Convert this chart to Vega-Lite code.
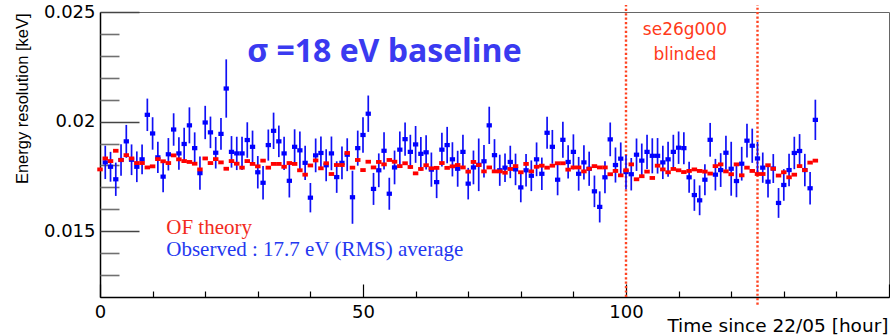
{
  "$schema": "https://vega.github.io/schema/vega-lite/v6.json",
  "width": 789,
  "height": 285,
  "autosize": {"type": "none"},
  "padding": {"left": 100, "top": 12, "right": 1, "bottom": 38},
  "background": "white",
  "config": {
    "view": {"stroke": "#666666", "strokeWidth": 1},
    "axis": {"grid": false, "labelFont": "DejaVu Sans", "labelColor": "black", "titleColor": "black", "labelFlush": false, "labelOverlap": false}
  },
  "datasets": {
    "blind": [
      {"h": 100, "y1": 0.0120, "y2": 0.02532},
      {"h": 125, "y1": 0.01165, "y2": 0.02532}
    ],
    "red": [
      {"h":0,"v":0.01782},{"h":1,"v":0.01832},{"h":2,"v":0.0182},{"h":3,"v":0.01867},{"h":4,"v":0.01825},
      {"h":5,"v":0.01847},{"h":6,"v":0.01832},{"h":7,"v":0.01811},{"h":8,"v":0.01811},{"h":9,"v":0.01791},
      {"h":10,"v":0.01796},{"h":11,"v":0.01829},{"h":12,"v":0.01819},{"h":13,"v":0.01811},{"h":14,"v":0.01846},
      {"h":15,"v":0.01828},{"h":16,"v":0.0182},{"h":17,"v":0.01816},{"h":18,"v":0.01808},{"h":19,"v":0.01782},
      {"h":20,"v":0.01832},{"h":21,"v":0.01811},{"h":22,"v":0.01829},{"h":23,"v":0.01814},{"h":24,"v":0.01785},
      {"h":25,"v":0.0182},{"h":26,"v":0.01808},{"h":27,"v":0.0179},{"h":28,"v":0.0182},{"h":29,"v":0.01807},
      {"h":30,"v":0.01796},{"h":31,"v":0.01822},{"h":32,"v":0.0179},{"h":33,"v":0.01807},{"h":34,"v":0.01807},
      {"h":35,"v":0.01794},{"h":36,"v":0.01811},{"h":37,"v":0.01807},{"h":38,"v":0.01778},{"h":39,"v":0.01758},
      {"h":40,"v":0.018},{"h":41,"v":0.01823},{"h":42,"v":0.01787},{"h":43,"v":0.0181},{"h":44,"v":0.01761},
      {"h":45,"v":0.01802},{"h":46,"v":0.01802},{"h":47,"v":0.01857},{"h":48,"v":0.0179},{"h":49,"v":0.01825},
      {"h":50,"v":0.01779},{"h":51,"v":0.01817},{"h":52,"v":0.01791},{"h":53,"v":0.01816},{"h":54,"v":0.01805},
      {"h":55,"v":0.01825},{"h":56,"v":0.01817},{"h":57,"v":0.01797},{"h":58,"v":0.0181},{"h":59,"v":0.01793},
      {"h":60,"v":0.01764},{"h":61,"v":0.01784},{"h":62,"v":0.01801},{"h":63,"v":0.01787},{"h":64,"v":0.01789},
      {"h":65,"v":0.01811},{"h":66,"v":0.01789},{"h":67,"v":0.01796},{"h":68,"v":0.01802},{"h":69,"v":0.01791},
      {"h":70,"v":0.01772},{"h":71,"v":0.01816},{"h":72,"v":0.01802},{"h":73,"v":0.01773},{"h":74,"v":0.01791},
      {"h":75,"v":0.01773},{"h":76,"v":0.01773},{"h":77,"v":0.01767},{"h":78,"v":0.01784},{"h":79,"v":0.01797},
      {"h":80,"v":0.01769},{"h":81,"v":0.01807},{"h":82,"v":0.01773},{"h":83,"v":0.01794},{"h":84,"v":0.01799},
      {"h":85,"v":0.0179},{"h":86,"v":0.01799},{"h":87,"v":0.0181},{"h":88,"v":0.0181},{"h":89,"v":0.01781},
      {"h":90,"v":0.01791},{"h":91,"v":0.01791},{"h":92,"v":0.01773},{"h":93,"v":0.01785},{"h":94,"v":0.01797},
      {"h":95,"v":0.01791},{"h":96,"v":0.01791},{"h":97,"v":0.0176},{"h":98,"v":0.01775},{"h":99,"v":0.01755},
      {"h":100,"v":0.01778},{"h":101,"v":0.01805},{"h":102,"v":0.01737},{"h":103,"v":0.01751},{"h":104,"v":0.01772},
      {"h":105,"v":0.01743},{"h":106,"v":0.01799},{"h":107,"v":0.01782},{"h":108,"v":0.01769},{"h":109,"v":0.01784},
      {"h":110,"v":0.01778},{"h":111,"v":0.0177},{"h":112,"v":0.01775},{"h":113,"v":0.01782},{"h":114,"v":0.01775},
      {"h":115,"v":0.01772},{"h":116,"v":0.01763},{"h":117,"v":0.01797},{"h":118,"v":0.01805},{"h":119,"v":0.01773},
      {"h":120,"v":0.0176},{"h":121,"v":0.01805},{"h":122,"v":0.01755},{"h":123,"v":0.0179},{"h":124,"v":0.01775},
      {"h":125,"v":0.01761},{"h":126,"v":0.01761},{"h":127,"v":0.01801},{"h":128,"v":0.01785},{"h":129,"v":0.01754},
      {"h":130,"v":0.01769},{"h":131,"v":0.01746},{"h":132,"v":0.01758},{"h":133,"v":0.01797},{"h":134,"v":0.01779},
      {"h":135,"v":0.01813},{"h":136,"v":0.01822}
    ],
    "blue": [
      {"h":1,"v":0.01814,"lo":0.01738,"hi":0.0189},{"h":2,"v":0.01794,"lo":0.01726,"hi":0.01862},
      {"h":3,"v":0.01737,"lo":0.01661,"hi":0.01813},{"h":4,"v":0.01825,"lo":0.01753,"hi":0.01897},
      {"h":5,"v":0.0191,"lo":0.01835,"hi":0.01985},{"h":6,"v":0.01826,"lo":0.01756,"hi":0.01896},
      {"h":7,"v":0.01794,"lo":0.01724,"hi":0.01864},{"h":8,"v":0.01828,"lo":0.0176,"hi":0.01896},
      {"h":9,"v":0.02031,"lo":0.01957,"hi":0.02105},{"h":10,"v":0.01946,"lo":0.01872,"hi":0.0202},
      {"h":11,"v":0.01837,"lo":0.01766,"hi":0.01908},{"h":12,"v":0.01749,"lo":0.01678,"hi":0.0182},
      {"h":13,"v":0.01851,"lo":0.01777,"hi":0.01925},{"h":14,"v":0.01964,"lo":0.0189,"hi":0.02038},
      {"h":15,"v":0.01855,"lo":0.01781,"hi":0.01929},{"h":16,"v":0.01898,"lo":0.01824,"hi":0.01972},
      {"h":17,"v":0.01983,"lo":0.01901,"hi":0.02065},{"h":18,"v":0.01879,"lo":0.01807,"hi":0.01951},
      {"h":19,"v":0.01765,"lo":0.01689,"hi":0.01841},{"h":20,"v":0.01996,"lo":0.0192,"hi":0.02072},
      {"h":21,"v":0.01951,"lo":0.01879,"hi":0.02023},{"h":22,"v":0.01858,"lo":0.01786,"hi":0.0193},
      {"h":23,"v":0.01944,"lo":0.01872,"hi":0.02016},{"h":24,"v":0.02151,"lo":0.02018,"hi":0.02284},
      {"h":25,"v":0.01862,"lo":0.0179,"hi":0.01934},{"h":26,"v":0.01855,"lo":0.01779,"hi":0.01931},
      {"h":27,"v":0.01855,"lo":0.01779,"hi":0.01931},{"h":28,"v":0.01916,"lo":0.01835,"hi":0.01997},
      {"h":29,"v":0.01885,"lo":0.01811,"hi":0.01959},{"h":30,"v":0.01769,"lo":0.01695,"hi":0.01843},
      {"h":31,"v":0.01721,"lo":0.01645,"hi":0.01797},{"h":32,"v":0.01893,"lo":0.01822,"hi":0.01964},
      {"h":33,"v":0.01958,"lo":0.01875,"hi":0.02041},{"h":34,"v":0.0191,"lo":0.01838,"hi":0.01982},
      {"h":35,"v":0.01855,"lo":0.01779,"hi":0.01931},{"h":36,"v":0.0173,"lo":0.01654,"hi":0.01806},
      {"h":37,"v":0.01885,"lo":0.01805,"hi":0.01965},{"h":38,"v":0.01869,"lo":0.01783,"hi":0.01955},
      {"h":39,"v":0.01812,"lo":0.01734,"hi":0.0189},{"h":40,"v":0.01653,"lo":0.01586,"hi":0.0172},
      {"h":41,"v":0.01846,"lo":0.01769,"hi":0.01923},{"h":42,"v":0.01857,"lo":0.01782,"hi":0.01932},
      {"h":43,"v":0.01801,"lo":0.01728,"hi":0.01874},{"h":44,"v":0.01855,"lo":0.01778,"hi":0.01932},
      {"h":45,"v":0.01747,"lo":0.01675,"hi":0.01819},{"h":46,"v":0.01812,"lo":0.01737,"hi":0.01887},
      {"h":47,"v":0.01849,"lo":0.01774,"hi":0.01924},{"h":48,"v":0.01655,"lo":0.01534,"hi":0.01776},
      {"h":49,"v":0.01879,"lo":0.01799,"hi":0.01959},{"h":50,"v":0.01939,"lo":0.01858,"hi":0.0202},
      {"h":51,"v":0.02036,"lo":0.01953,"hi":0.02119},{"h":52,"v":0.01693,"lo":0.0162,"hi":0.01766},
      {"h":53,"v":0.01778,"lo":0.01701,"hi":0.01855},{"h":54,"v":0.01867,"lo":0.01782,"hi":0.01952},
      {"h":55,"v":0.01671,"lo":0.01598,"hi":0.01744},{"h":56,"v":0.01791,"lo":0.01714,"hi":0.01868},
      {"h":57,"v":0.01872,"lo":0.01789,"hi":0.01955},{"h":58,"v":0.0192,"lo":0.01844,"hi":0.01996},
      {"h":59,"v":0.01862,"lo":0.01784,"hi":0.0194},{"h":60,"v":0.01896,"lo":0.01812,"hi":0.0198},
      {"h":61,"v":0.01853,"lo":0.01776,"hi":0.0193},{"h":62,"v":0.0186,"lo":0.01782,"hi":0.01938},
      {"h":63,"v":0.01781,"lo":0.01703,"hi":0.01859},{"h":64,"v":0.01724,"lo":0.01651,"hi":0.01797},
      {"h":65,"v":0.01872,"lo":0.01795,"hi":0.01949},{"h":66,"v":0.01893,"lo":0.0181,"hi":0.01976},
      {"h":67,"v":0.01828,"lo":0.0175,"hi":0.01906},{"h":68,"v":0.01785,"lo":0.01703,"hi":0.01867},
      {"h":69,"v":0.01862,"lo":0.01784,"hi":0.0194},{"h":70,"v":0.01717,"lo":0.01645,"hi":0.01789},
      {"h":71,"v":0.01791,"lo":0.01714,"hi":0.01868},{"h":72,"v":0.01803,"lo":0.01683,"hi":0.01923},
      {"h":73,"v":0.01819,"lo":0.01745,"hi":0.01893},{"h":74,"v":0.01983,"lo":0.01898,"hi":0.02068},
      {"h":75,"v":0.01847,"lo":0.01774,"hi":0.0192},{"h":76,"v":0.01778,"lo":0.01707,"hi":0.01849},
      {"h":77,"v":0.0179,"lo":0.01725,"hi":0.01855},{"h":78,"v":0.01816,"lo":0.01742,"hi":0.0189},
      {"h":79,"v":0.01782,"lo":0.0171,"hi":0.01854},{"h":80,"v":0.017,"lo":0.01632,"hi":0.01768},
      {"h":81,"v":0.01778,"lo":0.01704,"hi":0.01852},{"h":82,"v":0.01753,"lo":0.01683,"hi":0.01823},
      {"h":83,"v":0.01828,"lo":0.01751,"hi":0.01905},{"h":84,"v":0.01762,"lo":0.01688,"hi":0.01836},
      {"h":85,"v":0.01949,"lo":0.01876,"hi":0.02022},{"h":86,"v":0.01885,"lo":0.01808,"hi":0.01962},
      {"h":87,"v":0.01735,"lo":0.01664,"hi":0.01806},{"h":88,"v":0.01917,"lo":0.01835,"hi":0.01999},
      {"h":89,"v":0.01816,"lo":0.0174,"hi":0.01892},{"h":90,"v":0.01862,"lo":0.01782,"hi":0.01942},
      {"h":91,"v":0.01762,"lo":0.01685,"hi":0.01839},{"h":92,"v":0.01814,"lo":0.01736,"hi":0.01892},
      {"h":93,"v":0.01785,"lo":0.01707,"hi":0.01863},{"h":94,"v":0.01682,"lo":0.0161,"hi":0.01754},
      {"h":95,"v":0.01611,"lo":0.0154,"hi":0.01682},{"h":96,"v":0.01746,"lo":0.01673,"hi":0.01819},
      {"h":97,"v":0.01919,"lo":0.01842,"hi":0.01996},{"h":98,"v":0.01802,"lo":0.01722,"hi":0.01882},
      {"h":99,"v":0.01831,"lo":0.01757,"hi":0.01905},{"h":100,"v":0.0177,"lo":0.01692,"hi":0.01848},
      {"h":101,"v":0.0176,"lo":0.01686,"hi":0.01834},{"h":102,"v":0.01849,"lo":0.01775,"hi":0.01923},
      {"h":103,"v":0.01822,"lo":0.01744,"hi":0.019},{"h":104,"v":0.01862,"lo":0.01784,"hi":0.0194},
      {"h":105,"v":0.01844,"lo":0.01764,"hi":0.01924},{"h":106,"v":0.01844,"lo":0.01763,"hi":0.01925},
      {"h":107,"v":0.01814,"lo":0.01738,"hi":0.0189},{"h":108,"v":0.01828,"lo":0.01748,"hi":0.01908},
      {"h":109,"v":0.01862,"lo":0.01784,"hi":0.0194},{"h":110,"v":0.01881,"lo":0.01807,"hi":0.01955},
      {"h":111,"v":0.01879,"lo":0.01806,"hi":0.01952},{"h":112,"v":0.01746,"lo":0.01675,"hi":0.01817},
      {"h":113,"v":0.01665,"lo":0.01593,"hi":0.01737},{"h":114,"v":0.01641,"lo":0.01573,"hi":0.01709},
      {"h":115,"v":0.01735,"lo":0.01664,"hi":0.01806},{"h":116,"v":0.01917,"lo":0.0184,"hi":0.01994},
      {"h":117,"v":0.01758,"lo":0.01686,"hi":0.0183},{"h":118,"v":0.01779,"lo":0.01702,"hi":0.01856},
      {"h":119,"v":0.01858,"lo":0.01781,"hi":0.01935},{"h":120,"v":0.01785,"lo":0.01662,"hi":0.01908},
      {"h":121,"v":0.01729,"lo":0.01655,"hi":0.01803},{"h":122,"v":0.01808,"lo":0.01731,"hi":0.01885},
      {"h":123,"v":0.01913,"lo":0.01836,"hi":0.0199},{"h":124,"v":0.0189,"lo":0.01812,"hi":0.01968},
      {"h":125,"v":0.01832,"lo":0.01757,"hi":0.01907},{"h":126,"v":0.0179,"lo":0.01721,"hi":0.01859},
      {"h":127,"v":0.01726,"lo":0.01654,"hi":0.01798},{"h":128,"v":0.01786,"lo":0.0172,"hi":0.01852},
      {"h":129,"v":0.01629,"lo":0.01561,"hi":0.01697},{"h":130,"v":0.01711,"lo":0.01639,"hi":0.01783},
      {"h":131,"v":0.01779,"lo":0.01705,"hi":0.01853},{"h":132,"v":0.01857,"lo":0.01783,"hi":0.01931},
      {"h":133,"v":0.01866,"lo":0.01789,"hi":0.01943},{"h":134,"v":0.01779,"lo":0.01705,"hi":0.01853},
      {"h":135,"v":0.01696,"lo":0.01622,"hi":0.0177},{"h":136,"v":0.02008,"lo":0.01916,"hi":0.021}
    ],
    "title": [{"h": 28, "v": 0.02271, "t": "σ =18 eV baseline"}],
    "blindtext": [
      {"h": 111.2, "v": 0.02396, "t": "se26g000"},
      {"h": 111.2, "v": 0.02281, "t": "blinded"}
    ],
    "legred": [{"h": 12.6, "v": 0.01488, "t": "OF theory"}],
    "legblue": [{"h": 12.6, "v": 0.01389, "t": "Observed : 17.7 eV (RMS) average"}]
  },
  "layer": [
    {
      "data": {"name": "blind"},
      "mark": {"type": "rule", "color": "#ff4422", "strokeWidth": 2.4, "strokeDash": [2.2, 2.2], "clip": false},
      "encoding": {
        "x": {"field": "h", "type": "quantitative",
          "scale": {"domain": [0, 150], "nice": false, "zero": false},
          "axis": {"orient": "bottom", "values": [0, 50, 100], "format": "d", "ticks": false, "domain": true,
            "domainColor": "black", "domainWidth": 1.5, "labelFontSize": 18, "labelPadding": 6,
            "title": "Time since 22/05 [hour]", "titleFont": "DejaVu Sans", "titleFontSize": 18.5, "titleFontWeight": "normal",
            "titleAlign": "right", "titleBaseline": "alphabetic", "titleAnchor": null, "titleX": 788, "titleY": 34}},
        "y": {"field": "y1", "type": "quantitative",
          "scale": {"domain": [0.012, 0.025], "nice": false, "zero": false},
          "axis": {"orient": "left", "values": [0.015, 0.02, 0.025], "labelExpr": "'' + datum.value", "ticks": false,
            "domain": true, "domainColor": "black", "domainWidth": 1.5, "labelFontSize": 18, "labelPadding": 5,
            "labelBaseline": "middle",
            "title": "Energy resolution [keV]", "titleFont": "Liberation Sans", "titleFontSize": 16.5, "titleFontWeight": "normal",
            "titleAngle": 270, "titleAlign": "right", "titleBaseline": "alphabetic", "titleAnchor": null, "titleX": -73, "titleY": 1}},
        "y2": {"field": "y2"}
      }
    },
    {
      "data": {"name": "blue"},
      "mark": {"type": "rule", "color": "#1010f5", "strokeWidth": 1.7},
      "encoding": {
        "x": {"field": "h", "type": "quantitative",
          "axis": {"orient": "bottom", "values": [0, 50, 100, 150], "tickSize": -13, "tickColor": "black", "tickWidth": 1.2,
            "labels": false, "domain": false, "title": null}},
        "y": {"field": "lo", "type": "quantitative",
          "axis": {"orient": "left", "values": [0.015, 0.02, 0.025], "tickSize": -39, "tickColor": "#444444", "tickWidth": 1.6,
            "labels": false, "domain": false, "title": null}},
        "y2": {"field": "hi"}
      }
    },
    {
      "data": {"name": "blue"},
      "mark": {"type": "point", "shape": "M-1,-0.8H1V0.8H-1Z", "filled": true, "color": "#0000ff", "opacity": 1, "size": 28},
      "encoding": {
        "x": {"field": "h", "type": "quantitative",
          "axis": {"orient": "bottom", "values": [10, 20, 30, 40, 60, 70, 80, 90, 110, 120, 130, 140], "tickSize": -6,
            "tickColor": "black", "tickWidth": 1.2, "labels": false, "domain": false, "title": null}},
        "y": {"field": "v", "type": "quantitative",
          "axis": {"orient": "left", "values": [0.013, 0.014, 0.016, 0.017, 0.018, 0.019, 0.021, 0.022, 0.023, 0.024],
            "tickSize": -19, "tickColor": "#707070", "tickWidth": 1.6, "labels": false, "domain": false, "title": null}}
      }
    },
    {
      "data": {"name": "red"},
      "mark": {"type": "point", "shape": "M-1,-0.7H1V0.7H-1Z", "filled": true, "color": "#ff0000", "opacity": 1, "size": 30},
      "encoding": {
        "x": {"field": "h", "type": "quantitative", "axis": null},
        "y": {"field": "v", "type": "quantitative", "axis": null}
      }
    },
    {
      "data": {"name": "title"},
      "mark": {"type": "text", "font": "Open Sans", "fontWeight": "bold", "fontSize": 32, "color": "#3a3af0", "align": "left", "baseline": "alphabetic"},
      "encoding": {
        "x": {"field": "h", "type": "quantitative", "axis": null},
        "y": {"field": "v", "type": "quantitative", "axis": null},
        "text": {"field": "t"}
      }
    },
    {
      "data": {"name": "blindtext"},
      "mark": {"type": "text", "font": "DejaVu Sans", "fontSize": 17, "color": "#ff3a1a", "align": "center", "baseline": "alphabetic"},
      "encoding": {
        "x": {"field": "h", "type": "quantitative", "axis": null},
        "y": {"field": "v", "type": "quantitative", "axis": null},
        "text": {"field": "t"}
      }
    },
    {
      "data": {"name": "legred"},
      "mark": {"type": "text", "font": "Liberation Serif", "fontSize": 21, "color": "#f22a20", "align": "left", "baseline": "alphabetic"},
      "encoding": {
        "x": {"field": "h", "type": "quantitative", "axis": null},
        "y": {"field": "v", "type": "quantitative", "axis": null},
        "text": {"field": "t"}
      }
    },
    {
      "data": {"name": "legblue"},
      "mark": {"type": "text", "font": "Liberation Serif", "fontSize": 21, "color": "#2438f0", "align": "left", "baseline": "alphabetic"},
      "encoding": {
        "x": {"field": "h", "type": "quantitative", "axis": null},
        "y": {"field": "v", "type": "quantitative", "axis": null},
        "text": {"field": "t"}
      }
    }
  ],
  "resolve": {"axis": {"x": "independent", "y": "independent"}}
}
